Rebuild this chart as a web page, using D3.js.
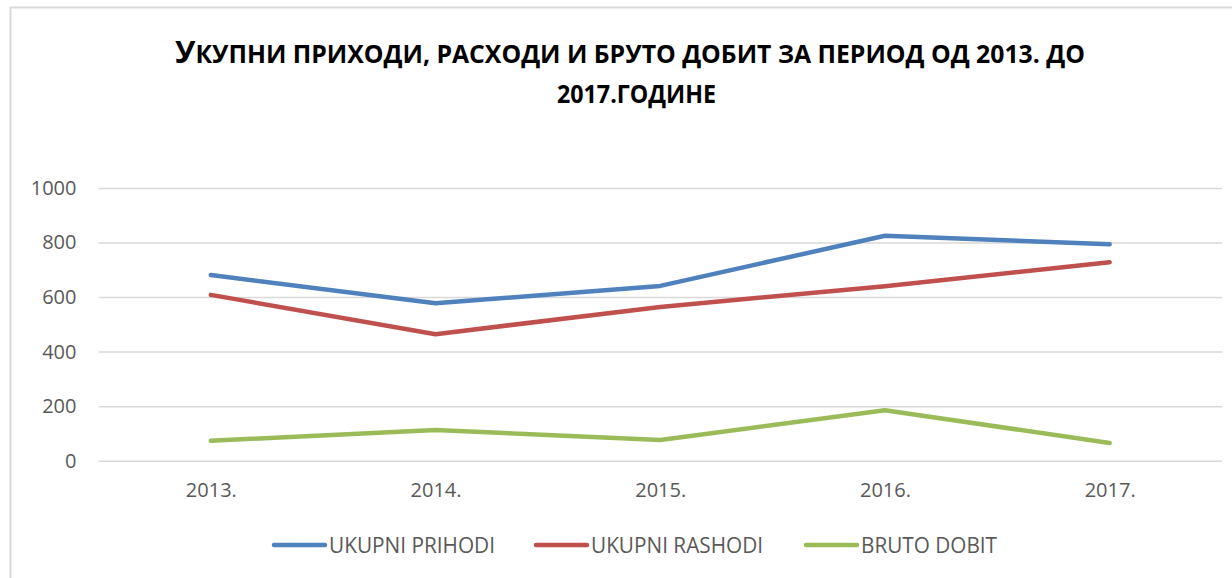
<!DOCTYPE html>
<html>
<head>
<meta charset="utf-8">
<script src="https://cdn.jsdelivr.net/npm/d3@7"></script>
<style>
  body { margin: 0; background: #fff; }
  svg { display: block; font-family: "Open Sans", "Noto Sans", sans-serif; }
</style>
</head>
<body>
<div id="chart"></div>
<script>
const width = 1232;
const height = 578;

// data
const years = ["2013.", "2014.", "2015.", "2016.", "2017."];
const prihodi = [681, 577, 641, 825, 794];
const rashodi = [608, 464, 564, 640, 728];
const dobit = [73, 113, 76, 185, 65];
const yTicks = [0, 200, 400, 600, 800, 1000];

const seriesNames = ["UKUPNI PRIHODI", "UKUPNI RASHODI", "BRUTO DOBIT"];
const seriesColors = ["#4F81BD", "#C0504D", "#9BBB59"];
const seriesValues = [prihodi, rashodi, dobit];

const svg = d3.select("#chart")
  .append("svg")
  .attr("width", width)
  .attr("height", height);

// chart frame
svg.append("rect")
  .attr("x", 10.5)
  .attr("y", 7.5)
  .attr("width", width + 20)
  .attr("height", height + 20)
  .attr("fill", "#fff")
  .attr("stroke", "#d9d9d9")
  .attr("stroke-width", 2);

// title, two lines
const title1 = svg.append("text")
  .attr("x", 175)
  .attr("y", 63)
  .attr("font-weight", "bold")
  .attr("fill", "#000")
  .attr("textLength", 910)
  .attr("lengthAdjust", "spacingAndGlyphs");
title1.append("tspan").attr("font-size", 31).text("У");
title1.append("tspan").attr("font-size", 25).text("КУПНИ ПРИХОДИ, РАСХОДИ И БРУТО ДОБИТ ЗА ПЕРИОД ОД 2013. ДО");

svg.append("text")
  .attr("x", 557)
  .attr("y", 103)
  .attr("font-weight", "bold")
  .attr("font-size", 25)
  .attr("fill", "#000")
  .attr("textLength", 159)
  .attr("lengthAdjust", "spacingAndGlyphs")
  .text("2017.ГОДИНЕ");

const x = d3.scalePoint()
  .domain(years)
  .range([98.5, 1222])
  .padding(0.5);

const y = d3.scaleLinear()
  .domain([0, 1000])
  .range([460.7, 188]);

// y axis + gridlines
const yAxis = svg.append("g")
  .attr("transform", "translate(98.5,0)")
  .call(d3.axisLeft(y).tickValues(yTicks).tickSize(-(1222 - 98.5)).tickPadding(22).tickFormat(d3.format("d")));
yAxis.select(".domain").remove();
yAxis.selectAll("line").attr("stroke", "#d9d9d9").attr("stroke-width", 1.5);
yAxis.selectAll("text")
  .attr("font-size", 20)
  .attr("font-family", "Open Sans, sans-serif")
  .attr("fill", "#595959");

// x axis labels
const xAxis = svg.append("g")
  .attr("transform", "translate(0," + y(0) + ")")
  .call(d3.axisBottom(x).tickSize(0).tickPadding(22));
xAxis.select(".domain").remove();
xAxis.selectAll("text")
  .attr("font-size", 20)
  .attr("font-family", "Open Sans, sans-serif")
  .attr("fill", "#595959");

// lines
const line = d3.line()
  .x((d, i) => x(years[i]))
  .y(d => y(d));

seriesValues.forEach((vals, idx) => {
  svg.append("path")
    .datum(vals)
    .attr("d", line)
    .attr("fill", "none")
    .attr("stroke", seriesColors[idx])
    .attr("stroke-width", 4.5)
    .attr("stroke-linejoin", "round")
    .attr("stroke-linecap", "round");
});

// legend
const legendX = [272, 534, 804];
const legendW = [166, 172, 136];
const legend = svg.append("g");
seriesNames.forEach((name, idx) => {
  const g = legend.append("g").attr("transform", "translate(" + legendX[idx] + ",545)");
  g.append("line")
    .attr("x1", 2).attr("x2", 53)
    .attr("y1", 0).attr("y2", 0)
    .attr("stroke", seriesColors[idx])
    .attr("stroke-width", 4.5)
    .attr("stroke-linecap", "round");
  g.append("text")
    .attr("x", 57)
    .attr("y", 8)
    .attr("font-size", 21)
    .attr("fill", "#595959")
    .attr("textLength", legendW[idx])
    .attr("lengthAdjust", "spacingAndGlyphs")
    .text(name);
});
</script>
</body>
</html>
